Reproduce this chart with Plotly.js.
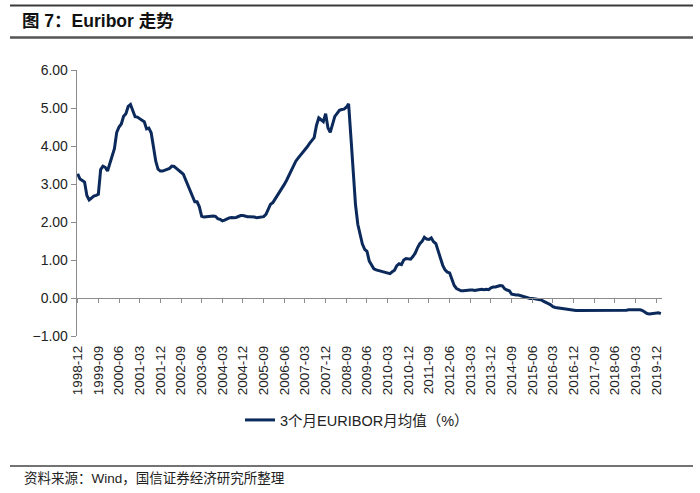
<!DOCTYPE html>
<html>
<head>
<meta charset="utf-8">
<script src="https://cdn.plot.ly/plotly-3.0.1.min.js"></script>
<style>
html,body{margin:0;padding:0;background:#fff;}
#chart{width:700px;height:493px;}
</style>
</head>
<body>
<div id="chart"></div>
<script>
// ---- Data: 3-month EURIBOR, monthly average (%), starting 1998-12 ----
const startYear = 1998;
const startMonth = 12;
const v1998 = [3.27];
const v1999 = [3.13, 3.09, 3.05, 2.70, 2.58, 2.63, 2.68, 2.70, 2.73, 3.38, 3.47, 3.44];
const v2000 = [3.34, 3.54, 3.75, 3.93, 4.36, 4.50, 4.58, 4.78, 4.85, 5.04, 5.09, 4.94];
const v2001 = [4.77, 4.76, 4.71, 4.68, 4.64, 4.45, 4.47, 4.35, 3.98, 3.60, 3.39, 3.34];
const v2002 = [3.34, 3.36, 3.39, 3.41, 3.47, 3.46, 3.41, 3.35, 3.31, 3.26, 3.12, 2.94];
const v2003 = [2.83, 2.69, 2.53, 2.53, 2.40, 2.15, 2.13, 2.14, 2.15, 2.14, 2.16, 2.15];
const v2004 = [2.09, 2.07, 2.03, 2.05, 2.09, 2.11, 2.12, 2.11, 2.12, 2.15, 2.17, 2.17];
const v2005 = [2.15, 2.14, 2.14, 2.14, 2.13, 2.11, 2.12, 2.13, 2.14, 2.20, 2.36, 2.47];
const v2006 = [2.51, 2.60, 2.72, 2.79, 2.89, 2.99, 3.10, 3.23, 3.34, 3.50, 3.60, 3.68];
const v2007 = [3.75, 3.82, 3.89, 3.98, 4.07, 4.15, 4.22, 4.54, 4.74, 4.69, 4.64, 4.85];
const v2008 = [4.48, 4.36, 4.60, 4.78, 4.86, 4.94, 4.96, 4.97, 5.02, 5.11, 4.24, 3.29];
const v2009 = [2.46, 1.94, 1.64, 1.42, 1.28, 1.23, 0.97, 0.86, 0.77, 0.74, 0.72, 0.71];
const v2010 = [0.68, 0.66, 0.64, 0.64, 0.69, 0.73, 0.85, 0.90, 0.88, 1.00, 1.04, 1.02];
const v2011 = [1.02, 1.09, 1.18, 1.32, 1.43, 1.49, 1.60, 1.55, 1.54, 1.58, 1.48, 1.43];
const v2012 = [1.22, 1.05, 0.86, 0.74, 0.68, 0.66, 0.50, 0.33, 0.25, 0.21, 0.19, 0.19];
const v2013 = [0.20, 0.22, 0.21, 0.21, 0.20, 0.21, 0.22, 0.23, 0.22, 0.23, 0.22, 0.27];
const v2014 = [0.29, 0.29, 0.31, 0.33, 0.32, 0.24, 0.21, 0.19, 0.10, 0.08, 0.08, 0.08];
const v2015 = [0.06, 0.05, 0.03, 0.00, -0.01, -0.01, -0.02, -0.03, -0.04, -0.05, -0.09, -0.13];
const v2016 = [-0.15, -0.18, -0.23, -0.25, -0.26, -0.27, -0.29, -0.30, -0.30, -0.31, -0.31, -0.32];
const v2017 = [-0.33, -0.33, -0.33, -0.33, -0.33, -0.33, -0.33, -0.33, -0.33, -0.33, -0.33, -0.33];
const v2018 = [-0.33, -0.33, -0.33, -0.33, -0.33, -0.32, -0.32, -0.32, -0.32, -0.32, -0.32, -0.31];
const v2019 = [-0.31, -0.31, -0.31, -0.31, -0.31, -0.33, -0.37, -0.41, -0.42, -0.41, -0.40, -0.40];
const v2020 = [-0.39, -0.41];

const seriesName = "3个月EURIBOR月均值（%）";
const titleText = "图 7：Euribor 走势";
const sourceText = "资料来源：Wind，国信证券经济研究所整理";
const tickStep = 9;

const values = [].concat(v1998, v1999, v2000, v2001, v2002, v2003, v2004, v2005, v2006,
  v2007, v2008, v2009, v2010, v2011, v2012, v2013, v2014, v2015, v2016, v2017, v2018, v2019, v2020);

// month category labels
const months = [];
for (let i = 0; i < values.length; i++) {
  const m0 = (startMonth - 1) + i;
  const y = startYear + Math.floor(m0 / 12);
  const m = (m0 % 12) + 1;
  months.push(y + "-" + (m < 10 ? "0" + m : m));
}
const tickLabels = months.filter((d, i) => i % tickStep === 0);

// ---- layout helpers (pixel -> paper) ----
const W = 700, H = 493;
const L = 77, R = 38, T = 70, B = 157;
const pw = W - L - R, ph = H - T - B;
const px = x => (x - L) / pw;
const py = y => (H - B - y) / ph;

const lineColor = "#0b2a5b";
const axisColor = "#8c8c8c";
const fontFam = "Liberation Sans, Arial, Noto Sans CJK SC, sans-serif";

const traces = [
  {
    x: months, y: values, type: "scatter", mode: "lines",
    name: seriesName, line: {color: lineColor, width: 3},
    xaxis: "x", yaxis: "y", hoverinfo: "x+y"
  },
  {
    x: months, y: values, type: "scatter", mode: "lines",
    showlegend: false, line: {color: "rgba(0,0,0,0)", width: 0},
    xaxis: "x2", yaxis: "y", hoverinfo: "skip"
  }
];

const xr = [-0.3, values.length - 0.5];

const layout = {
  width: W, height: H,
  margin: {l: L, r: R, t: T, b: B, pad: 0},
  paper_bgcolor: "#fff", plot_bgcolor: "#fff",
  font: {family: fontFam, size: 13, color: "#222"},
  title: {
    text: "<b>" + titleText + "</b>",
    x: 22 / W, xanchor: "left", xref: "container",
    y: 1 - 21 / H, yanchor: "middle", yref: "container",
    font: {family: fontFam, size: 17.5, color: "#111"}
  },
  xaxis: {
    type: "category", categoryorder: "array", categoryarray: months,
    range: xr, tickmode: "array", tickvals: tickLabels, ticktext: tickLabels,
    tickangle: -90, showline: false, ticks: "", showgrid: false, zeroline: false,
    tickfont: {family: fontFam, size: 13.5, color: "#222"},
    ticklabelstandoff: 6, fixedrange: true
  },
  xaxis2: {
    type: "category", categoryorder: "array", categoryarray: months,
    overlaying: "x", anchor: "free", position: 1 / 7, side: "bottom",
    range: xr, tickmode: "array", tickvals: tickLabels,
    showticklabels: false, ticks: "outside", ticklen: 4, tickwidth: 1, tickcolor: axisColor,
    showline: true, linecolor: axisColor, linewidth: 1.3, showgrid: false, zeroline: false
  },
  yaxis: {
    range: [-1, 6], dtick: 1, tick0: 0, tickformat: ".2f",
    showline: true, linecolor: axisColor, linewidth: 1.3,
    ticks: "outside", ticklen: 5, tickwidth: 1, tickcolor: axisColor,
    showgrid: false, zeroline: false,
    tickfont: {family: fontFam, size: 14, color: "#222"}
  },
  showlegend: true,
  legend: {
    orientation: "h", x: px(240), xanchor: "left", y: py(420), yanchor: "middle",
    font: {family: fontFam, size: 14.5, color: "#222"}, bgcolor: "rgba(0,0,0,0)"
  },
  shapes: [
    {type: "line", xref: "paper", yref: "paper", x0: px(10), x1: px(693), y0: py(5.5), y1: py(5.5),
     line: {color: "#3a3a3a", width: 2}},
    {type: "line", xref: "paper", yref: "paper", x0: px(10), x1: px(693), y0: py(37.5), y1: py(37.5),
     line: {color: "#555", width: 2.5}},
    {type: "line", xref: "paper", yref: "paper", x0: px(10), x1: px(693), y0: py(466), y1: py(466),
     line: {color: "#444", width: 1.6}}
  ],
  annotations: [
    {text: sourceText, xref: "paper", yref: "paper", x: px(22), y: py(478),
     xanchor: "left", yanchor: "middle", showarrow: false,
     font: {family: fontFam, size: 13.5, color: "#222"}}
  ]
};

Plotly.newPlot("chart", traces, layout, {displayModeBar: false, staticPlot: true});
</script>
</body>
</html>
